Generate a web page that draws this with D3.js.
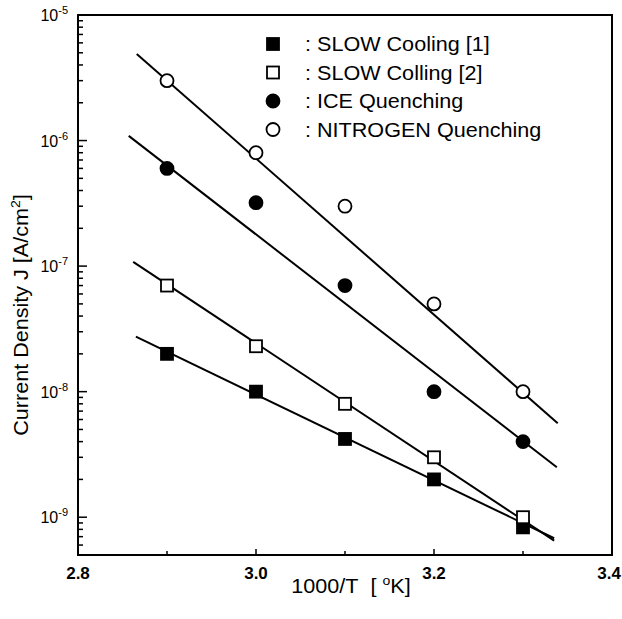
<!DOCTYPE html>
<html>
<head>
<meta charset="utf-8">
<script src="https://cdn.jsdelivr.net/npm/d3@7"></script>
<style>
  body { margin: 0; background: #fff; }
  text { font-family: "Liberation Sans", Arial, sans-serif; fill: #000; }
</style>
</head>
<body>
<div id="chart"></div>
<script>
// x positions (1000/T) of the measured points
var xValues = [2.9, 3.0, 3.1, 3.2, 3.3];

// current density J [A/cm2]
var slowCooling1 = [2.0e-8, 1.0e-8, 4.2e-9, 2.0e-9, 8.3e-10];
var slowColling2 = [7.0e-8, 2.3e-8, 8.0e-9, 3.0e-9, 1.0e-9];
var iceQuench = [6.0e-7, 3.2e-7, 7.0e-8, 1.0e-8, 4.0e-9];
var nitrogenQuench = [3.0e-6, 8.0e-7, 3.0e-7, 5.0e-8, 1.0e-8];

// fitted straight lines: [x start, J start, x end, J end]
var fitSlow1 = [2.865, 2.74e-8, 3.335, 6.8e-10];
var fitSlow2 = [2.862, 1.08e-7, 3.335, 6.5e-10];
var fitIce = [2.857, 1.09e-6, 3.338, 2.5e-9];
var fitNitrogen = [2.866, 4.9e-6, 3.339, 5.6e-9];

var legendLabels = [": SLOW Cooling [1]", ": SLOW Colling [2]", ": ICE Quenching", ": NITROGEN Quenching"];
var xTicks = [2.8, 3.0, 3.2, 3.4];
var xMinorTicks = [2.9, 3.1, 3.3];
var yDecades = [-9, -8, -7, -6, -5];

var width = 622, height = 619;
var plotLeft = 78, plotRight = 612, plotTop = 15, plotBottom = 555;
var stretch = 1.08; // scanned lettering is a bit wider than Arial

var svg = d3.select("#chart").append("svg")
    .attr("width", width)
    .attr("height", height);

var x = d3.scaleLinear().domain([2.8, 3.4]).range([plotLeft, plotRight]);
var y = d3.scaleLog().domain([5e-10, 1e-5]).range([plotBottom, plotTop]);

// frame
svg.append("rect")
    .attr("x", plotLeft).attr("y", plotTop)
    .attr("width", plotRight - plotLeft).attr("height", plotBottom - plotTop)
    .style("fill", "none")
    .style("stroke", "#000")
    .style("stroke-width", 2);

// x axis ticks (pointing inward)
svg.selectAll("line.xmaj")
    .data(xTicks.slice(1, 3))
    .enter().append("line")
    .attr("x1", d => x(d)).attr("x2", d => x(d))
    .attr("y1", plotBottom).attr("y2", plotBottom - 6)
    .style("stroke", "#000").style("stroke-width", 1.5);

svg.selectAll("line.xmin")
    .data(xMinorTicks)
    .enter().append("line")
    .attr("x1", d => x(d)).attr("x2", d => x(d))
    .attr("y1", plotBottom).attr("y2", plotBottom - 4)
    .style("stroke", "#000").style("stroke-width", 1.5);

// last label sits right at the page edge, keep it inside
svg.selectAll("text.xlab")
    .data(xTicks)
    .enter().append("text")
    .attr("x", (d, i) => i === xTicks.length - 1 ? width - 1 : x(d))
    .attr("y", plotBottom + 24)
    .attr("text-anchor", (d, i) => i === xTicks.length - 1 ? "end" : "middle")
    .style("font-size", "17px")
    .style("font-weight", "bold")
    .text(d => d.toFixed(1));

// y axis ticks: majors at decades, minors at 2..9
var minorY = [];
yDecades.forEach(function (e) {
    for (var m = 2; m <= 9; m++) {
        var v = m * Math.pow(10, e - 1);
        if (v >= 5e-10 && v < 1e-5) minorY.push(v);
    }
});

svg.selectAll("line.ymin")
    .data(minorY)
    .enter().append("line")
    .attr("x1", plotLeft).attr("x2", plotLeft + 5)
    .attr("y1", d => y(d)).attr("y2", d => y(d))
    .style("stroke", "#000").style("stroke-width", 1.5);

svg.selectAll("line.ymaj")
    .data(yDecades)
    .enter().append("line")
    .attr("x1", plotLeft).attr("x2", plotLeft + 9)
    .attr("y1", d => y(Math.pow(10, d))).attr("y2", d => y(Math.pow(10, d)))
    .style("stroke", "#000").style("stroke-width", 1.5);

var ylab = svg.selectAll("text.ylab")
    .data(yDecades)
    .enter().append("text")
    .attr("x", plotLeft - 10)
    .attr("y", d => y(Math.pow(10, d)) + 6)
    .attr("text-anchor", "end")
    .style("font-size", "16px");
ylab.append("tspan").text("10");
ylab.append("tspan")
    .attr("dy", -7)
    .style("font-size", "11px")
    .text(d => "-" + Math.abs(d));

// axis titles
var xt = svg.append("text")
    .attr("transform", "translate(" + (x(3.1) + 6) + ",593) scale(" + stretch + ",1)")
    .attr("text-anchor", "middle")
    .style("font-size", "20px");
xt.append("tspan").text("1000/T\u00a0\u00a0[ ");
xt.append("tspan").attr("dy", -8).style("font-size", "13px").text("o");
xt.append("tspan").attr("dy", 8).text("K]");

var yt = svg.append("text")
    .attr("transform", "translate(28,315) rotate(-90) scale(" + stretch + ",1)")
    .attr("text-anchor", "middle")
    .style("font-size", "20px");
yt.append("tspan").text("Current Density J [A/cm");
yt.append("tspan").attr("dy", -8).style("font-size", "13px").text("2");
yt.append("tspan").attr("dy", 8).text("]");

// fitted lines
var fits = [fitSlow1, fitSlow2, fitIce, fitNitrogen];
svg.selectAll("line.fit")
    .data(fits)
    .enter().append("line")
    .attr("x1", d => x(d[0])).attr("y1", d => y(d[1]))
    .attr("x2", d => x(d[2])).attr("y2", d => y(d[3]))
    .style("stroke", "#000")
    .style("stroke-width", 2);

// markers
function drawMarker(g, shape, filled) {
    if (shape === "square") {
        g.append("rect")
            .attr("x", -6).attr("y", -6)
            .attr("width", 12).attr("height", 12)
            .style("fill", filled ? "#000" : "#fff")
            .style("stroke", "#000").style("stroke-width", 1.8);
    } else {
        g.append("circle")
            .attr("r", 6.5)
            .style("fill", filled ? "#000" : "#fff")
            .style("stroke", "#000").style("stroke-width", 1.8);
    }
}

var series = [
    { values: slowCooling1, shape: "square", filled: true },
    { values: slowColling2, shape: "square", filled: false },
    { values: iceQuench, shape: "circle", filled: true },
    { values: nitrogenQuench, shape: "circle", filled: false }
];

series.forEach(function (s) {
    svg.selectAll(null)
        .data(s.values)
        .enter().append("g")
        .attr("transform", (d, i) => "translate(" + x(xValues[i]) + "," + y(d) + ")")
        .each(function () { drawMarker(d3.select(this), s.shape, s.filled); });
});

// legend
var legend = svg.selectAll("g.legend")
    .data(series)
    .enter().append("g")
    .attr("transform", (d, i) => "translate(273," + (44 + i * 28.5) + ")");
legend.each(function (d) { drawMarker(d3.select(this), d.shape, d.filled); });
legend.append("text")
    .attr("transform", "translate(32,7) scale(" + stretch + ",1)")
    .style("font-size", "20px")
    .text((d, i) => legendLabels[i]);
</script>
</body>
</html>
